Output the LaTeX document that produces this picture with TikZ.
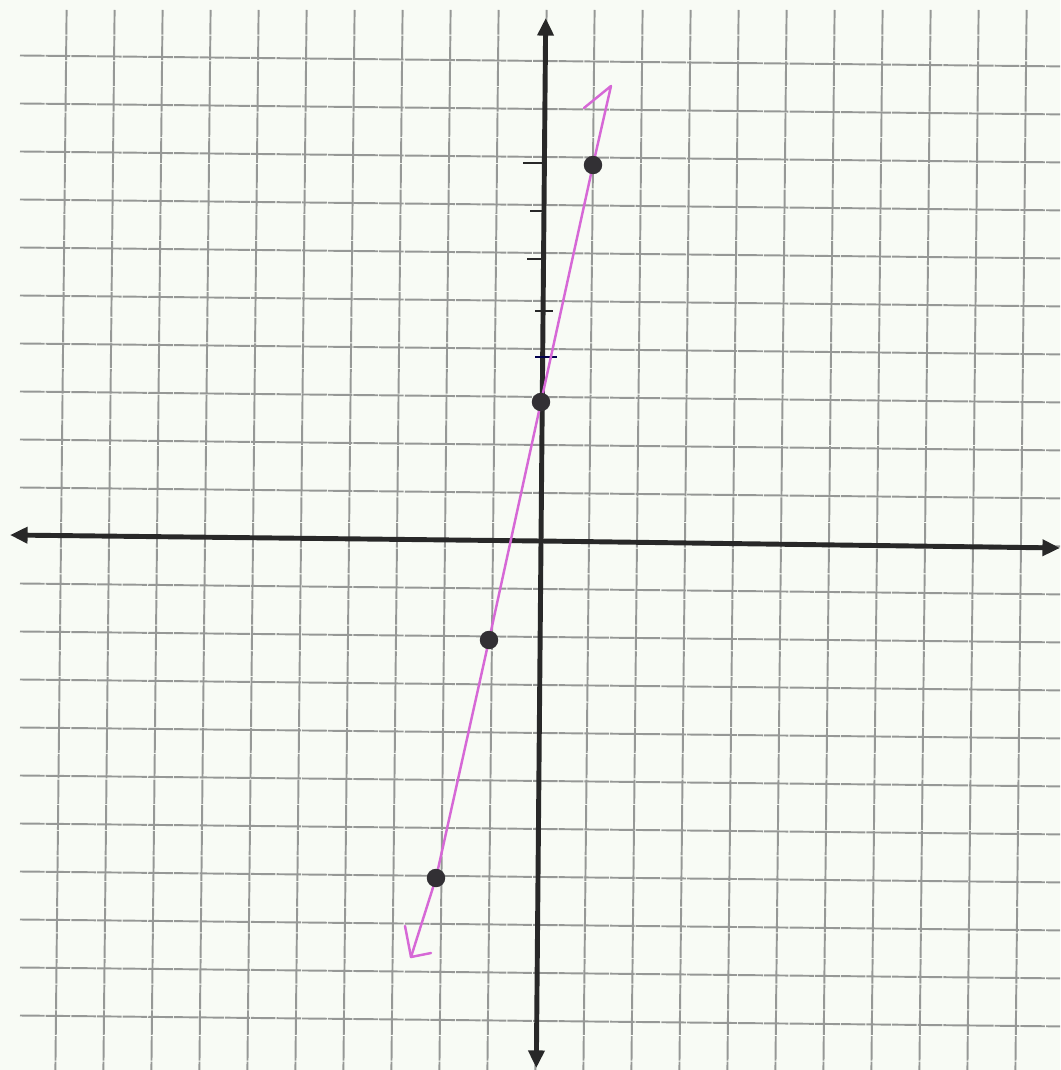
\documentclass[tikz,border=0pt]{standalone}
\usetikzlibrary{arrows.meta}
\definecolor{paper}{RGB}{248,251,245}
\definecolor{gridc}{RGB}{150,152,150}
\definecolor{axisc}{RGB}{40,40,40}
\definecolor{penc}{RGB}{214,104,214}
\definecolor{dotc}{RGB}{50,48,52}
\tikzset{
  gridline/.style={draw=gridc, line width=1.1pt, dash pattern=on 14pt off 0.6pt},
  axisline/.style={draw=axisc, line width=2.8pt, -{Triangle[length=10pt,width=9pt]}},
  tickmark/.style={draw=axisc, line width=1.3pt},
  penline/.style={draw=penc, line width=1.4pt, line cap=round, line join=round},
  ptdot/.style={circle, fill=dotc, inner sep=0pt, minimum size=10.5pt}
}
\begin{document}
\begin{tikzpicture}[x=0.02cm, y=-0.02cm]
\fill[paper] (0,0) rectangle (1060,1070);
\useasboundingbox (0,0) rectangle (1060,1070);
% vertical grid lines (slightly tilted)
\foreach \k in {-10,...,10}{
  \draw[gridline] ({546.6+48*\k},10) -- ({535.4+48*\k},1070);
}
% horizontal grid lines
\foreach \j in {-10,...,10}{
  \draw[gridline] (20,{535.5-48*\j}) -- (1060,{546.4-48*\j});
}
% axes
\coordinate (xl) at (10,535);
\coordinate (xr) at (1060,548);
\coordinate (yt) at (545.7,18);
\coordinate (yb) at (536.3,1068);
\coordinate (o) at (541,541);
\draw[axisline] (o) -- (xr);
\draw[axisline] (o) -- (xl);
\draw[axisline] (o) -- (yt);
\draw[axisline] (o) -- (yb);
% ticks on y-axis
\draw[tickmark] (523,163) -- (543,163);
\draw[tickmark] (530,211) -- (545,211);
\draw[tickmark] (527,259) -- (545,259);
\draw[tickmark] (535,311) -- (553,311);
\draw[tickmark, draw=black!70!blue] (535,357) -- (557,357);
% plotted points
\coordinate (p1) at (593,165);
\coordinate (p2) at (541,402);
\coordinate (p3) at (489,640);
\coordinate (p4) at (436,878);
\coordinate (top) at (611,86);
\coordinate (tophook) at (584,108);
\coordinate (bot) at (411,957);
\coordinate (bothook) at (431,953);
\coordinate (botleft) at (405,926);
\draw[penline] (tophook) -- (top) -- (p1) -- (p2) -- (p3) -- (p4) -- (bot) -- (bothook);
\draw[penline] (botleft) -- (bot);
\foreach \p in {p1,p2,p3,p4}{
  \node[ptdot] (n\p) at (\p) {};
}
\end{tikzpicture}
\end{document}
